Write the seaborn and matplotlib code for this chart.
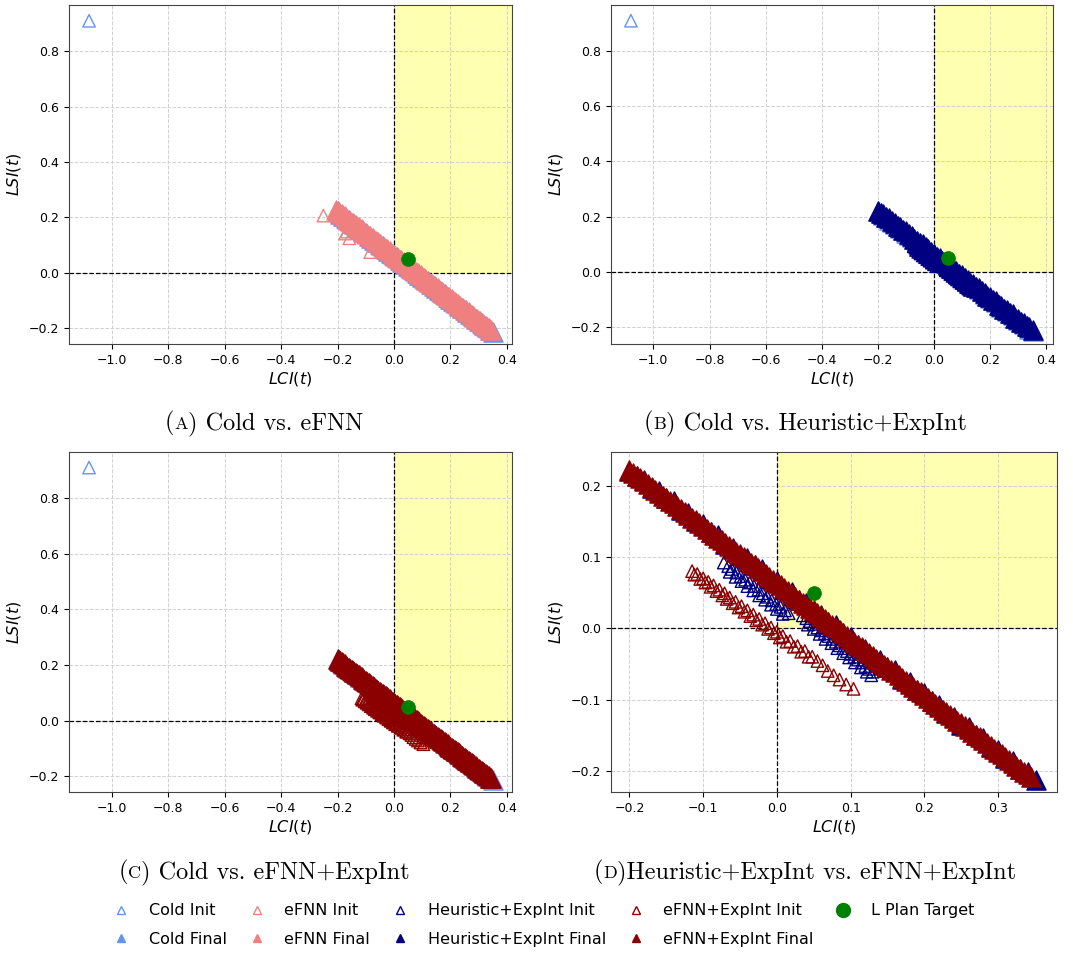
import matplotlib
matplotlib.use("Agg")
import matplotlib.pyplot as plt
import seaborn as sns
from matplotlib.lines import Line2D
from matplotlib.offsetbox import TextArea, HPacker, AnchoredOffsetbox

# ---------------- data ----------------
cold_init_x = [-1.08]
cold_init_y = [0.91]

cold_final_x = [-0.20, -0.19, -0.18, -0.17, -0.16, -0.15, -0.14, -0.13, -0.12, -0.11,
                -0.10, -0.09, -0.08, -0.07, -0.06, -0.05, -0.04, -0.03, -0.02, -0.01,
                0.00, 0.01, 0.02, 0.03, 0.04, 0.05, 0.06, 0.07, 0.08, 0.09,
                0.10, 0.11, 0.12, 0.13, 0.14, 0.15, 0.16, 0.17, 0.18, 0.19,
                0.20, 0.21, 0.22, 0.23, 0.24, 0.25, 0.26, 0.27, 0.28, 0.29,
                0.30, 0.31, 0.32, 0.33, 0.34, 0.352]
cold_final_y = [0.221, 0.213, 0.205, 0.197, 0.189, 0.181, 0.174, 0.166, 0.158, 0.150,
                0.142, 0.134, 0.126, 0.118, 0.110, 0.103, 0.095, 0.087, 0.079, 0.071,
                0.063, 0.055, 0.047, 0.039, 0.031, 0.024, 0.016, 0.008, 0.000, -0.008,
                -0.016, -0.024, -0.032, -0.040, -0.048, -0.056, -0.063, -0.071, -0.079, -0.087,
                -0.095, -0.103, -0.111, -0.119, -0.127, -0.135, -0.142, -0.150, -0.158, -0.166,
                -0.174, -0.182, -0.190, -0.198, -0.206, -0.215]

efnn_init_x = [-0.250, -0.173, -0.167, -0.158, -0.084]
efnn_init_y = [0.206, 0.141, 0.148, 0.124, 0.074]

efnn_final_x = [-0.205, -0.195, -0.185, -0.175, -0.165, -0.155, -0.145, -0.135, -0.125, -0.115,
                -0.105, -0.095, -0.085, -0.075, -0.065, -0.055, -0.045, -0.035, -0.025, -0.015,
                -0.005, 0.005, 0.015, 0.025, 0.035, 0.045, 0.055, 0.065, 0.075, 0.085,
                0.095, 0.105, 0.115, 0.125, 0.135, 0.145, 0.155, 0.165, 0.175, 0.185,
                0.195, 0.205, 0.215, 0.225, 0.235, 0.245, 0.255, 0.265, 0.275, 0.285,
                0.295, 0.305, 0.315, 0.325, 0.335, 0.345]
efnn_final_y = [0.227, 0.219, 0.211, 0.203, 0.195, 0.187, 0.180, 0.172, 0.164, 0.156,
                0.148, 0.140, 0.132, 0.124, 0.116, 0.109, 0.101, 0.093, 0.085, 0.077,
                0.069, 0.061, 0.053, 0.045, 0.037, 0.030, 0.022, 0.014, 0.006, -0.002,
                -0.010, -0.018, -0.026, -0.034, -0.042, -0.050, -0.057, -0.065, -0.073, -0.081,
                -0.089, -0.097, -0.105, -0.113, -0.121, -0.129, -0.136, -0.144, -0.152, -0.160,
                -0.168, -0.176, -0.184, -0.192, -0.200, -0.208]

heur_init_x = [-0.072, -0.066, -0.061, -0.055, -0.049, -0.043, -0.037, -0.031, -0.025, -0.019,
               -0.013, -0.007, -0.001, 0.005, 0.011, 0.016,
               -0.064, -0.056, -0.048, -0.040, -0.032, -0.024, -0.016, -0.008, 0.000, 0.008,
               0.035, 0.040, 0.045, 0.050, 0.055, 0.060, 0.065, 0.070, 0.075, 0.080,
               0.085, 0.090, 0.095, 0.100, 0.105, 0.110, 0.115, 0.120, 0.125, 0.130,
               0.042, 0.050, 0.058, 0.066, 0.074, 0.082, 0.090, 0.098, 0.106, 0.114, 0.122, 0.128]
heur_init_y = [0.092, 0.087, 0.083, 0.078, 0.073, 0.068, 0.064, 0.059, 0.054, 0.049,
               0.044, 0.039, 0.034, 0.030, 0.025, 0.021,
               0.079, 0.072, 0.066, 0.059, 0.053, 0.046, 0.040, 0.033, 0.027, 0.020,
               0.018, 0.014, 0.010, 0.006, 0.001, -0.003, -0.007, -0.011, -0.015, -0.019,
               -0.024, -0.028, -0.032, -0.036, -0.040, -0.044, -0.048, -0.053, -0.057, -0.061,
               0.005, -0.001, -0.008, -0.015, -0.021, -0.028, -0.035, -0.041, -0.048, -0.055, -0.061, -0.066]

heur_final_x = [-0.20, -0.19, -0.18, -0.17, -0.16, -0.15, -0.14, -0.13, -0.12, -0.11,
                -0.10, -0.09, -0.08, -0.07, -0.06, -0.05, -0.04, -0.03, -0.02, -0.01,
                0.00, 0.01, 0.02, 0.03, 0.04, 0.05, 0.06, 0.07, 0.08, 0.09,
                0.10, 0.11, 0.12, 0.13, 0.14, 0.15, 0.16, 0.17, 0.18, 0.19,
                0.20, 0.21, 0.22, 0.23, 0.24, 0.25, 0.26, 0.27, 0.28, 0.29,
                0.30, 0.31, 0.32, 0.33, 0.34, 0.352]
heur_final_y = [0.221, 0.213, 0.208, 0.197, 0.193, 0.183, 0.178, 0.166, 0.161, 0.150,
                0.146, 0.135, 0.130, 0.118, 0.113, 0.103, 0.099, 0.088, 0.083, 0.071,
                0.066, 0.055, 0.051, 0.040, 0.035, 0.024, 0.019, 0.008, 0.004, -0.007,
                -0.012, -0.024, -0.029, -0.040, -0.044, -0.055, -0.059, -0.071, -0.076, -0.087,
                -0.091, -0.102, -0.107, -0.119, -0.124, -0.135, -0.138, -0.149, -0.154, -0.166,
                -0.171, -0.182, -0.186, -0.197, -0.202, -0.213]

efei_init_x = [-0.115, -0.112, -0.108, -0.104, -0.100, -0.097, -0.093, -0.090, -0.086, -0.082,
               -0.078, -0.074, -0.071, -0.068, -0.064, -0.060, -0.056, -0.052, -0.048, -0.044,
               -0.040, -0.036, -0.032, -0.028, -0.024, -0.020, -0.016, -0.012, -0.008, -0.004,
               0.000, 0.004, 0.008, 0.013, 0.018, 0.023, 0.028, 0.033, 0.038, 0.043,
               0.048, 0.055, 0.062, 0.069, 0.077, 0.085, 0.094, 0.104]
efei_init_y = [0.080, 0.075, 0.076, 0.069, 0.070, 0.064, 0.065, 0.058, 0.060, 0.052,
               0.054, 0.046, 0.049, 0.041, 0.043, 0.035, 0.037, 0.029, 0.031, 0.023,
               0.025, 0.017, 0.019, 0.011, 0.013, 0.005, 0.007, -0.001, 0.001, -0.007,
               -0.005, -0.013, -0.011, -0.019, -0.018, -0.026, -0.025, -0.033, -0.032, -0.040,
               -0.040, -0.046, -0.052, -0.060, -0.066, -0.072, -0.079, -0.085]

efei_final_x = [-0.200, -0.195, -0.190, -0.185, -0.180, -0.175, -0.170, -0.165, -0.160, -0.155,
                -0.150, -0.145, -0.140, -0.135, -0.130, -0.125, -0.120, -0.115, -0.110, -0.105,
                -0.100, -0.095, -0.090, -0.085, -0.080, -0.075, -0.070, -0.065, -0.060, -0.055,
                -0.050, -0.045, -0.040, -0.035, -0.030, -0.025, -0.020, -0.015, -0.010, -0.005,
                0.000, 0.005, 0.010, 0.015, 0.020, 0.025, 0.030, 0.035, 0.040, 0.045,
                0.050, 0.055, 0.060, 0.065, 0.070, 0.075, 0.080, 0.085, 0.090, 0.095,
                0.100, 0.105, 0.110, 0.115, 0.120, 0.125, 0.130, 0.135, 0.140, 0.145,
                0.150, 0.155, 0.160, 0.165, 0.170, 0.175, 0.180, 0.185, 0.190, 0.195,
                0.200, 0.205, 0.210, 0.215, 0.220, 0.225, 0.230, 0.235, 0.240, 0.245,
                0.250, 0.255, 0.260, 0.265, 0.270, 0.275, 0.280, 0.285, 0.290, 0.295,
                0.300, 0.305, 0.310, 0.315, 0.320, 0.325, 0.330, 0.335, 0.340, 0.345]
efei_final_y = [0.222, 0.218, 0.214, 0.210, 0.206, 0.202, 0.198, 0.194, 0.190, 0.186,
                0.183, 0.179, 0.175, 0.171, 0.167, 0.163, 0.159, 0.155, 0.151, 0.147,
                0.143, 0.139, 0.135, 0.131, 0.127, 0.123, 0.119, 0.115, 0.111, 0.107,
                0.104, 0.100, 0.096, 0.092, 0.088, 0.084, 0.080, 0.076, 0.072, 0.068,
                0.064, 0.060, 0.056, 0.052, 0.048, 0.044, 0.040, 0.036, 0.032, 0.028,
                0.025, 0.021, 0.017, 0.013, 0.009, 0.005, 0.001, -0.003, -0.007, -0.011,
                -0.015, -0.019, -0.023, -0.027, -0.031, -0.035, -0.039, -0.043, -0.047, -0.051,
                -0.054, -0.058, -0.062, -0.066, -0.070, -0.074, -0.078, -0.082, -0.086, -0.090,
                -0.094, -0.098, -0.102, -0.106, -0.110, -0.114, -0.118, -0.122, -0.126, -0.130,
                -0.133, -0.137, -0.141, -0.145, -0.149, -0.153, -0.157, -0.161, -0.165, -0.169,
                -0.173, -0.177, -0.181, -0.185, -0.189, -0.193, -0.197, -0.201, -0.205, -0.208]

target_x = [0.05]
target_y = [0.05]

methods = {
    "Cold": dict(color="cornflowerblue", ix=cold_init_x, iy=cold_init_y, fx=cold_final_x, fy=cold_final_y),
    "eFNN": dict(color="lightcoral", ix=efnn_init_x, iy=efnn_init_y, fx=efnn_final_x, fy=efnn_final_y),
    "Heuristic+ExpInt": dict(color="navy", ix=heur_init_x, iy=heur_init_y, fx=heur_final_x, fy=heur_final_y),
    "eFNN+ExpInt": dict(color="darkred", ix=efei_init_x, iy=efei_init_y, fx=efei_final_x, fy=efei_final_y),
}

panels = [
    (("Cold", "eFNN"), "A", ") Cold vs. eFNN"),
    (("Cold", "Heuristic+ExpInt"), "B", ") Cold vs. Heuristic+ExpInt"),
    (("Cold", "eFNN+ExpInt"), "C", ") Cold vs. eFNN+ExpInt"),
    (("Heuristic+ExpInt", "eFNN+ExpInt"), "D", ")Heuristic+ExpInt vs. eFNN+ExpInt"),
]

# ---------------- layout ----------------
W, H = 1073, 955
fig = plt.figure(figsize=(W / 100, H / 100), dpi=100)

def rect(l, r, t, b):
    return [l / W, 1 - b / H, (r - l) / W, (b - t) / H]

axes_rects = [rect(69, 512, 5, 344), rect(611, 1053, 5, 344),
              rect(69, 512, 452, 792), rect(611, 1057, 452, 792)]
limits = [((-1.151, 0.418), (-0.258, 0.967)),
          ((-1.151, 0.424), (-0.262, 0.967)),
          ((-1.151, 0.418), (-0.257, 0.966)),
          ((-0.225, 0.380), (-0.2296, 0.247))]
ticks = [([-1.0, -0.8, -0.6, -0.4, -0.2, 0.0, 0.2, 0.4], [-0.2, 0.0, 0.2, 0.4, 0.6, 0.8])] * 3 + \
        [([-0.2, -0.1, 0.0, 0.1, 0.2, 0.3], [-0.2, -0.1, 0.0, 0.1, 0.2])]
captions_pos = [(264 / W, 1 - 423 / H), (805 / W, 1 - 423 / H),
                (264 / W, 1 - 872 / H), (805 / W, 1 - 872 / H)]


def caption(x, y, letter, rest):
    big = dict(family="cmr10", size=17.5)
    small = dict(family="cmr10", size=13)
    box = HPacker(children=[TextArea("(", textprops=big), TextArea(letter, textprops=small),
                            TextArea(rest, textprops=big)],
                  align="baseline", pad=0, sep=0)
    ab = AnchoredOffsetbox(loc="center", child=box, bbox_to_anchor=(x, y),
                           bbox_transform=fig.transFigure, frameon=False, pad=0, borderpad=0)
    fig.add_artist(ab)


for (pair, letter, rest), r, (xl, yl), (xt, yt), (cx, cy) in zip(panels, axes_rects, limits, ticks, captions_pos):
    ax = fig.add_axes(r)
    ax.set_axisbelow(True)
    ax.grid(True, linestyle="--", color="#d0d0d0", linewidth=0.7)
    ax.fill_between([0, xl[1]], 0, yl[1], color="yellow", alpha=0.3, linewidth=0, zorder=0.5)
    ax.axhline(0, color="black", linestyle="--", linewidth=0.9, zorder=1)
    ax.axvline(0, color="black", linestyle="--", linewidth=0.9, zorder=1)
    for name in pair:
        m = methods[name]
        c = m["color"]
        sns.scatterplot(x=m["ix"], y=m["iy"], ax=ax, marker="^", s=80, facecolor="none",
                        edgecolor=c, linewidth=1.0, legend=False, zorder=2)
        sns.scatterplot(x=m["fx"], y=m["fy"], ax=ax, marker="^", s=190, color=c,
                        edgecolor=c, linewidth=1.0, legend=False, zorder=2)
    sns.scatterplot(x=target_x, y=target_y, ax=ax, marker="o", s=100, color="green",
                    edgecolor="green", linewidth=0.5, legend=False, zorder=5)
    ax.set_xlim(*xl)
    ax.set_ylim(*yl)
    ax.set_xticks(xt)
    ax.set_yticks(yt)
    ax.tick_params(labelsize=9)
    ax.set_xlabel(r"$LCI(t)$", fontsize=11.5, labelpad=2)
    ax.set_ylabel(r"$LSI(t)$", fontsize=11.5, labelpad=4)
    for sp in ax.spines.values():
        sp.set_color("#444444")
    caption(cx, cy, letter, rest)

# ---------------- legend ----------------
handles, labels = [], []
for name, m in methods.items():
    c = m["color"]
    handles.append(Line2D([], [], linestyle="none", marker="^", markersize=6,
                          markerfacecolor="none", markeredgecolor=c, markeredgewidth=1.0))
    labels.append(f"{name} Init")
    handles.append(Line2D([], [], linestyle="none", marker="^", markersize=6,
                          markerfacecolor=c, markeredgecolor=c))
    labels.append(f"{name} Final")
handles.append(Line2D([], [], linestyle="none", marker="o", markersize=10,
                      markerfacecolor="green", markeredgecolor="green"))
labels.append("L Plan Target")

fig.legend(handles, labels, loc="center", bbox_to_anchor=(0.505, 1 - 925 / H), ncol=5,
           frameon=False, fontsize=11.5, handlelength=1.5, handletextpad=1.0,
           columnspacing=1.1, labelspacing=0.85)

fig.savefig("out.png", dpi=100)
